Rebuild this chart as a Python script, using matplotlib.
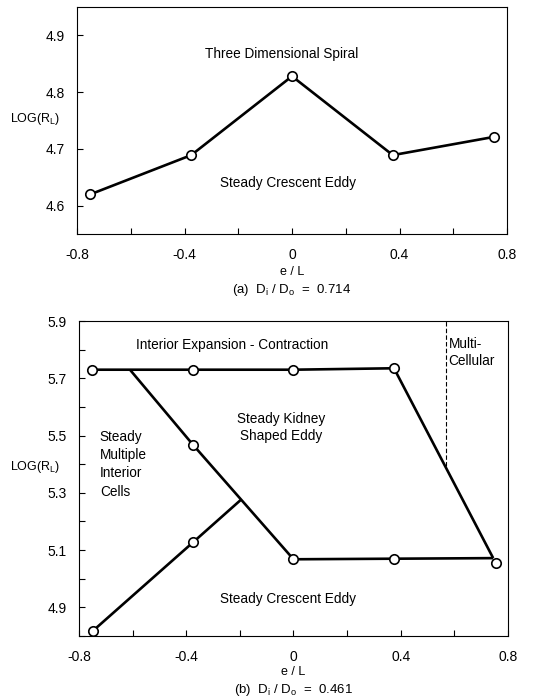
import numpy as np
import matplotlib.pyplot as plt
from matplotlib.ticker import FixedLocator, FixedFormatter, MultipleLocator

plt.rcParams['font.family'] = ['Liberation Sans', 'DejaVu Sans']
plt.rcParams['axes.unicode_minus'] = False

# (a) Di/Do = 0.714 : transition curve
a_x = [-0.75, -0.375, 0.0, 0.375, 0.75]
a_y = [4.62, 4.689, 4.828, 4.689, 4.721]

# (b) Di/Do = 0.461 : regime boundaries
b_upper_x = [-0.75, -0.375, 0.0, 0.375]
b_upper_y = [5.73, 5.73, 5.73, 5.735]
b_right_x = [0.375, 0.745]
b_right_y = [5.735, 5.072]
b_lower_x = [0.0, 0.375, 0.745]
b_lower_y = [5.068, 5.07, 5.072]
b_diag_x = [-0.61, -0.375, 0.0]
b_diag_y = [5.73, 5.468, 5.068]
b_left_x = [-0.747, -0.375, -0.197]
b_left_y = [4.819, 5.127, 5.275]
b_dash_x = [0.568, 0.568]
b_dash_y = [5.395, 5.90]
b_pts_x = [-0.75, -0.375, 0.0, 0.375, -0.375, 0.0, 0.375, 0.755, -0.747, -0.375]
b_pts_y = [5.73, 5.73, 5.73, 5.735, 5.468, 5.068, 5.07, 5.055, 4.819, 5.127]

xticks = [-0.8, -0.4, 0.0, 0.4, 0.8]
xticklabels = ['-0.8', '-0.4', '0', '0.4', '0.8']

fig = plt.figure(figsize=(5.45, 7.0), dpi=100)
ax1 = fig.add_axes([0.1413, 0.6657, 0.789, 0.3243])
ax2 = fig.add_axes([0.145, 0.0914, 0.787, 0.45])

line_kw = dict(color='black', lw=1.9, solid_capstyle='butt')
mark_kw = dict(marker='o', ms=6.8, mfc='white', mec='black', mew=1.2, ls='none', zorder=5)
fs = 9.8


def style(ax, ylim, yticks, yminor):
    ax.set_xlim(-0.8, 0.8)
    ax.set_ylim(*ylim)
    ax.xaxis.set_major_locator(FixedLocator(xticks))
    ax.xaxis.set_major_formatter(FixedFormatter(xticklabels))
    ax.xaxis.set_minor_locator(FixedLocator([-0.6, -0.2, 0.2, 0.6]))
    ax.yaxis.set_major_locator(FixedLocator(yticks))
    ax.yaxis.set_major_formatter(FixedFormatter(['%.1f' % v for v in yticks]))
    if yminor:
        ax.yaxis.set_minor_locator(MultipleLocator(yminor))
    ax.tick_params(which='both', direction='in', top=False, right=False,
                   labelsize=10, width=0.8, length=4)
    ax.tick_params(axis='x', pad=10)
    ax.tick_params(axis='y', pad=9)
    for s in ax.spines.values():
        s.set_linewidth(0.8)


# panel (a)
ax1.plot(a_x, a_y, **line_kw)
ax1.plot(a_x, a_y, **mark_kw)
style(ax1, (4.55, 4.95), [4.6, 4.7, 4.8, 4.9], None)
ax1.text(-0.04, 4.868, 'Three Dimensional Spiral', ha='center', va='center', fontsize=fs)
ax1.text(-0.015, 4.64, 'Steady Crescent Eddy', ha='center', va='center', fontsize=fs)
ax1.text(-0.156, 0.507, r'LOG(R$_\mathregular{L}$)', transform=ax1.transAxes,
         ha='left', va='center', fontsize=9)
ax1.text(0.5, -0.167, 'e / L', transform=ax1.transAxes, ha='center', va='center', fontsize=9)
ax1.text(0.5, -0.247, r'(a)  D$_\mathregular{i}$ / D$_\mathregular{o}$  =  0.714',
         transform=ax1.transAxes, ha='center', va='center', fontsize=9.5)

# panel (b)
for xs, ys in [(b_upper_x, b_upper_y), (b_right_x, b_right_y), (b_lower_x, b_lower_y),
               (b_diag_x, b_diag_y), (b_left_x, b_left_y)]:
    ax2.plot(xs, ys, **line_kw)
ax2.plot(b_dash_x, b_dash_y, color='black', lw=0.8, ls=(0, (4, 2)))
ax2.plot(b_pts_x, b_pts_y, **mark_kw)
style(ax2, (4.8, 5.9), [4.9, 5.1, 5.3, 5.5, 5.7, 5.9], 0.1)
ax2.text(-0.23, 5.817, 'Interior Expansion - Contraction', ha='center', va='center', fontsize=fs)
ax2.text(0.578, 5.79, 'Multi-\nCellular', ha='left', va='center', fontsize=fs, linespacing=1.3)
ax2.text(-0.047, 5.529, 'Steady Kidney\nShaped Eddy', ha='center', va='center', fontsize=fs,
         linespacing=1.3)
ax2.text(-0.722, 5.40, 'Steady\nMultiple\nInterior\nCells', ha='left', va='center', fontsize=fs,
         linespacing=1.4)
ax2.text(-0.02, 4.93, 'Steady Crescent Eddy', ha='center', va='center', fontsize=fs)
ax2.text(-0.161, 0.537, r'LOG(R$_\mathregular{L}$)', transform=ax2.transAxes,
         ha='left', va='center', fontsize=9)
ax2.text(0.5, -0.113, 'e / L', transform=ax2.transAxes, ha='center', va='center', fontsize=9)
ax2.text(0.5, -0.171, r'(b)  D$_\mathregular{i}$ / D$_\mathregular{o}$  =  0.461',
         transform=ax2.transAxes, ha='center', va='center', fontsize=9.5)

fig.savefig('out.png', dpi=100)
